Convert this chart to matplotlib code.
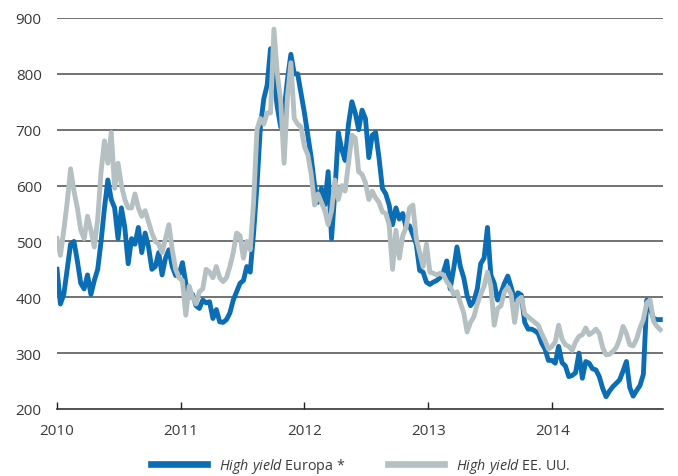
import numpy as np
import pandas as pd
import matplotlib
matplotlib.use("Agg")
import matplotlib.pyplot as plt
import matplotlib.dates as mdates

plt.rcParams["font.family"] = ["Open Sans", "DejaVu Sans"]
plt.rcParams["mathtext.fontset"] = "custom"
plt.rcParams["mathtext.it"] = "Open Sans:italic"
plt.rcParams["mathtext.rm"] = "Open Sans"

# Spreads (basis points), sampled every 10 days from January 2010
start_date = "2010-01-01"
step = "10D"

europa = [
    450, 388, 405, 450, 495, 500, 465, 425, 415, 440,
    405, 430, 450, 500, 560, 610, 575, 560, 505, 560,
    525, 460, 505, 495, 525, 480, 515, 490, 450, 455,
    480, 440, 470, 485, 455, 439, 440, 462, 425, 400,
    405, 385, 380, 395, 390, 392, 362, 378, 356, 355,
    360, 372, 395, 410, 425, 430, 455, 445, 515, 600,
    705, 755, 780, 845, 790, 740, 705, 735, 790, 835,
    800, 800, 765, 730, 690, 650, 600, 570, 595, 565,
    625, 505, 590, 695, 665, 645, 710, 750, 730, 700,
    735, 720, 650, 690, 695, 650, 595, 585, 565, 530,
    560, 540, 550, 525, 528, 512, 495, 448, 445, 427,
    423, 427, 430, 435, 445, 465, 415, 450, 490, 455,
    435, 403, 385, 393, 415, 460, 470, 525, 440, 425,
    395, 408, 425, 438, 418, 395, 408, 404, 355, 343,
    343, 340, 335, 318, 307, 287, 287, 282, 312, 283,
    277, 258, 260, 265, 300, 255, 285, 282, 272, 270,
    258, 237, 222, 232, 240, 246, 252, 268, 285, 238,
    223, 233, 242, 262, 395, 380, 362, 360, 360,
]

eeuu = [
    505, 475, 520, 570, 630, 590, 560, 520, 505, 545,
    520, 490, 540, 625, 680, 640, 695, 595, 640, 600,
    575, 560, 560, 585, 560, 545, 555, 535, 515, 500,
    495, 480, 505, 530, 485, 450, 435, 430, 368, 420,
    400, 388, 410, 415, 450, 445, 435, 455, 435, 428,
    435, 455, 480, 515, 510, 470, 500, 485, 570, 700,
    720, 710, 730, 730, 880, 800, 750, 640, 760, 820,
    720, 710, 705, 670, 655, 620, 565, 585, 570, 555,
    530, 555, 610, 575, 600, 590, 640, 690, 685, 625,
    620, 605, 575, 590, 578, 570, 553, 550, 530, 450,
    520, 470, 510, 525, 560, 565, 505, 480, 455, 495,
    445, 443, 440, 443, 440, 428, 420, 405, 410, 390,
    372, 338, 355, 365, 388, 405, 420, 445, 420, 350,
    380, 385, 410, 418, 405, 355, 395, 400, 370, 365,
    360, 355, 350, 335, 322, 307, 312, 320, 350, 325,
    315, 312, 305, 320, 330, 333, 345, 333, 337, 343,
    335, 310, 297, 298, 303, 310, 325, 348, 335, 315,
    313, 325, 345, 360, 390, 395, 357, 348, 342,
]

labels = ["$\\mathit{High\\ yield}$ Europa *", "$\\mathit{High\\ yield}$ EE. UU."]
year_ticks = ["2010", "2011", "2012", "2013", "2014"]
y_ticks = [200, 300, 400, 500, 600, 700, 800, 900]

dates = pd.date_range(start_date, periods=len(europa), freq=step)

BLUE = "#0b6db3"
GREY = "#b5c0c3"
TEXT = "#3a3a3a"

fig = plt.figure(figsize=(6.78, 4.77), dpi=100)
ax = fig.add_axes([0.0841, 0.1405, 0.8938, 0.8197])

ax.plot(dates, europa, color=BLUE, lw=3.5, solid_joinstyle="round", label=labels[0], zorder=3)
ax.plot(dates, eeuu, color=GREY, lw=3.5, solid_joinstyle="round", label=labels[1], zorder=4)

ax.set_ylim(200, 900)
ax.set_yticks(y_ticks)
ax.set_xlim(pd.Timestamp("2010-01-01"), pd.Timestamp("2014-11-24"))
ax.set_xticks([pd.Timestamp(f"{y}-01-01") for y in year_ticks])
ax.set_xticklabels(year_ticks)

for v in y_ticks[1:]:
    ax.axhline(v, color="#5a5a5a", lw=1.2, zorder=1)

for s in ["top", "right", "left"]:
    ax.spines[s].set_visible(False)
ax.spines["bottom"].set_color("#222222")
ax.spines["bottom"].set_linewidth(1.1)

ax.tick_params(axis="y", length=0, pad=11, labelsize=11, labelcolor=TEXT)
ax.tick_params(axis="x", direction="in", length=5, width=1, color="#222222",
               pad=10, labelsize=11, labelcolor=TEXT)

leg = fig.legend(loc="center", bbox_to_anchor=(0.532, 0.023), ncol=2, frameon=False,
                 handlelength=3.9, handletextpad=0.85, columnspacing=3.0,
                 fontsize=10.3)
for line in leg.get_lines():
    line.set_linewidth(4.8)
for t in leg.get_texts():
    t.set_color(TEXT)

fig.savefig("out.png", dpi=100)
